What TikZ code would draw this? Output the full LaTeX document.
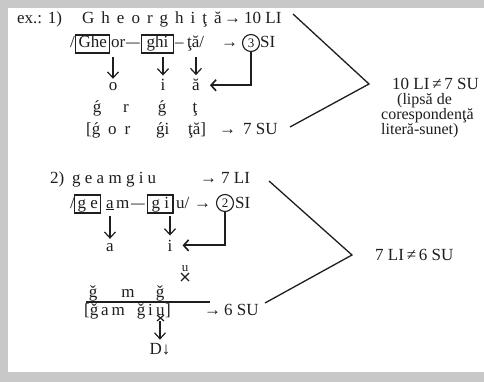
\documentclass[tikz,border=0pt]{standalone}
\usepackage{fontspec}
\usepackage{graphicx}
\setmainfont{Liberation Serif}
\usetikzlibrary{arrows.meta}
\definecolor{ink}{RGB}{30,30,30}
\definecolor{bggray}{RGB}{200,200,200}
\newcommand{\gac}{\ooalign{g\cr\hidewidth\char"00B4\hidewidth\cr}}
\newcommand{\gcar}{\ooalign{g\cr\hidewidth\char"02C7\hidewidth\cr}}
\newcommand{\lsp}{\hspace{7pt}}
\newcommand{\ldash}{\scalebox{1.6}[1]{–}}
\begin{document}
\begin{tikzpicture}[x=1pt,y=-1pt,
  txt/.style={anchor=base west, inner sep=0pt, font=\fontsize{17}{19}\selectfont, text=ink},
  stxt/.style={anchor=base west, inner sep=0pt, font=\fontsize{16}{17}\selectfont, text=ink},
  ctxt/.style={anchor=base, inner sep=0pt, font=\fontsize{17}{19}\selectfont, text=ink},
  bx/.style={draw=ink, line width=1.1pt, inner xsep=3pt, inner ysep=2pt, text height=11pt, text depth=3pt},
  circ/.style={circle, draw=ink, line width=1.1pt, inner sep=0pt, minimum size=17pt, font=\fontsize{13}{13}\selectfont, text=ink},
  varr/.style={draw=ink, line width=1.2pt, shorten >=4pt, -{Straight Barb[length=6pt,width=11pt,line width=1.2pt]}},
  larr/.style={draw=ink, line width=1.9pt, shorten >=10pt, -{Straight Barb[length=5pt,width=11pt,line width=1.6pt]}},
  brl/.style={draw=ink, line width=1.3pt},
  dmark/.style={draw=ink, line width=1.3pt}
]
\useasboundingbox (0,0) rectangle (484,382);
\fill[bggray] (0,0) rectangle (484,382);
\fill[white] (8,8) rectangle (484,372);

% ---------- Section 1 ----------
\node[txt] (ex1) at (17,24) {ex.: 1)};
\node[txt] (w1) at (82,24) {G\lsp h\lsp e\lsp o\lsp r\lsp g\lsp h\lsp i\lsp ţ\lsp ă};
\node[txt] (ar0) at (224,24) {→};
\node[txt] (li10) at (244,24) {10 LI};

\node[txt] (sl1) at (70,48) {/};
\node[txt,bx] (bGhe) at (75,48) {Ghe};
\node[txt] (or1) at (111,48) {or};
\node[txt] (d1) at (126,48) {\ldash};
\node[txt,bx,inner xsep=5pt] (bghi) at (141,48) {ghi};
\node[txt] (d2) at (175,48) {–};
\node[txt] (ta1) at (187,48) {ţă/};
\node[txt] (ar1) at (221,48) {→};
\node[circ] (c3) at (251,43) {3};
\node[txt] (si1) at (260,48) {SI};

\coordinate (t1) at (113,57);
\coordinate (t2) at (163,57);
\coordinate (t3) at (196,57);
\node[ctxt] (v1o) at (113,91) {o};
\node[ctxt] (v1i) at (163,91) {i};
\node[ctxt] (v1a) at (196,91) {ă};
\draw[varr] (t1) -- (v1o.north);
\draw[varr] (t2) -- (v1i.north);
\draw[varr] (t3) -- (v1a.north);
\draw[larr] (c3.south) |- (v1a.east);

\node[ctxt] (k1) at (97,113) {\gac};
\node[ctxt] (k2) at (126,113) {r};
\node[ctxt] (k3) at (162,113) {\gac};
\node[ctxt] (k4) at (195,113) {ţ};

\node[txt] (p1) at (86,135) {[\gac};
\node[txt] (p2) at (108,135) {o\hspace{8pt}r};
\node[txt] (p3) at (156,135) {\gac i};
\node[txt] (p4) at (188,135) {ţă]};
\node[txt] (ar3) at (219,135) {→};
\node[txt] (su7) at (243,135) {7 SU};

\coordinate (s1) at (293,14);
\coordinate (ap1) at (369,84);
\coordinate (e1) at (290,127);
\draw[brl] (s1) -- (ap1) -- (e1);

\node[txt] (r1) at (392,90) {10 LI\,≠\,7 SU};
\node[stxt] (r2) at (397,105) {(lipsă de};
\node[stxt] (r3) at (381,120) {corespondenţă};
\node[stxt] (r4) at (381,135) {literă-sunet)};

% ---------- Section 2 ----------
\node[txt] (ex2) at (50,183) {2)};
\node[txt] (w2) at (72,183) {g e a m g i u};
\node[txt] (ar4) at (200,183) {→};
\node[txt] (li7) at (221,183) {7 LI};

\node[txt] (sl2) at (70,208) {/};
\node[txt,bx] (bge) at (74,208) {\underline{g} e};
\node[txt] (a2) at (106,208) {\underline{a}};
\node[txt] (m2) at (116,208) {m};
\node[txt] (d3) at (131,208) {\ldash};
\node[txt,bx,inner xsep=4pt] (bgi) at (147,208) {\underline{g} i};
\node[txt] (u2) at (176,208) {u/};
\node[txt] (ar5) at (194,208) {→};
\node[circ] (c2) at (225,203) {2};
\node[txt] (si2) at (235,208) {SI};

\coordinate (t4) at (110,216);
\coordinate (t5) at (170,216);
\node[ctxt] (v2a) at (110,251) {a};
\node[ctxt] (v2i) at (170,251) {i};
\draw[varr] (t4) -- (v2a.north);
\draw[varr] (t5) -- (v2i.north);
\draw[larr] (c2.south) |- (v2i.east);

% isolated semivowel u with mark below
\node[ctxt, font=\fontsize{13}{13}\selectfont] (us) at (185,271) {u};
\coordinate (x1) at (181,273);
\coordinate (x2) at (189,281);
\coordinate (x3) at (189,273);
\coordinate (x4) at (181,281);
\draw[dmark] (x1) -- (x2) (x3) -- (x4);

\node[ctxt] (g1) at (93,297) {\gcar};
\node[ctxt] (g2) at (128,297) {m};
\node[ctxt] (g3) at (160,297) {\gcar};
\coordinate (l1) at (86,302);
\coordinate (l2) at (210,302);
\draw[brl, line width=1.1pt] (l1) -- (l2);

\node[txt] (q1) at (84,315) {[\gcar\,a\,m\hspace{12pt}\gcar\,i};
\node[txt] (q2) at (156,315) {u};
\node[txt] (q3) at (165,315) {]};
\coordinate (y1) at (157,315);
\coordinate (y2) at (164,321);
\coordinate (y3) at (164,315);
\coordinate (y4) at (157,321);
\draw[dmark, line width=1.2pt] (y1) -- (y2) (y3) -- (y4);
\node[txt] (ar6) at (204,315) {→};
\node[txt] (su6) at (224,315) {6 SU};

\coordinate (t6) at (160,321);
\node[ctxt] (dd) at (160,354) {D↓};
\draw[varr, shorten >=3pt] (t6) -- (dd.north);

\coordinate (s2) at (269,181);
\coordinate (ap2) at (352,255);
\coordinate (e2) at (265,303);
\draw[brl] (s2) -- (ap2) -- (e2);

\node[txt] (r5) at (375,260) {7 LI\,≠\,6 SU};
\end{tikzpicture}
\end{document}
